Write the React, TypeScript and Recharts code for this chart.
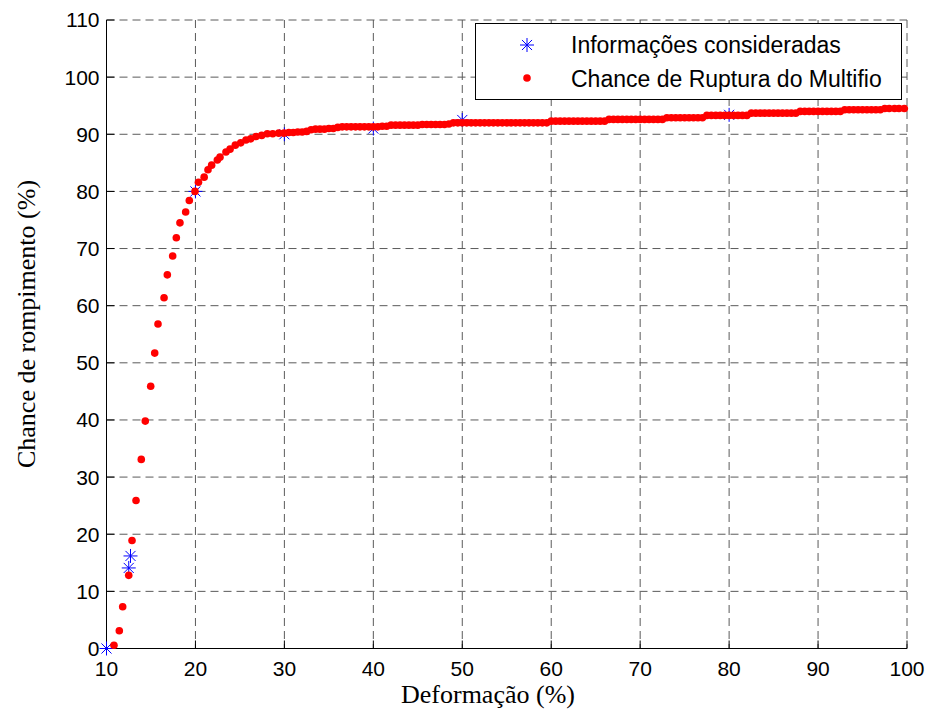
import { ScatterChart, Scatter, XAxis, YAxis, CartesianGrid } from 'recharts'

const xTicks = [10, 20, 30, 40, 50, 60, 70, 80, 90, 100]
const yTicks = [0, 10, 20, 30, 40, 50, 60, 70, 80, 90, 100, 110]

// pontos medidos (asteriscos azuis)
const informacoes: [number, number][] = [
  [10, 0], [12.5, 14.1], [12.7, 16.2], [20, 80], [30, 90], [40, 91], [50, 92.5], [80, 93.4],
]

// curva ajustada - trecho de subida
const rupturaSubida: [number, number][] = [
  [10.84, 0.56], [11.44, 3.1], [11.82, 7.3], [12.5, 12.8], [12.87, 18.9], [13.32, 25.9],
  [13.91, 33.1], [14.36, 39.8], [14.97, 45.9], [15.42, 51.7], [15.79, 56.8], [16.47, 61.4],
  [16.84, 65.4], [17.44, 68.7], [17.85, 71.9], [18.26, 74.5], [18.9, 76.4], [19.31, 78.4],
  [19.95, 80.0], [20.34, 81.6], [20.98, 82.5], [21.41, 83.8], [21.82, 84.6], [22.46, 85.5],
  [22.76, 86.0], [23.43, 86.9], [23.89, 87.4], [24.48, 88.1], [25.09, 88.5], [25.68, 89.0],
  [26.21, 89.2], [26.81, 89.6], [27.45, 89.8], [28.08, 90.1], [28.69, 90.1], [29.36, 90.2],
  [29.96, 90.2],
]

// curva ajustada - patamar
const rupturaPatamar: [number, number][] = [
  [30.5, 90.3], [31, 90.3], [31.5, 90.4], [32, 90.4], [32.5, 90.5], [33, 90.8], [33.5, 90.9],
  [34, 90.9], [34.5, 90.9], [35, 91.0], [35.5, 91.0], [36, 91.2], [36.5, 91.3], [37, 91.3],
  [37.5, 91.3], [38, 91.3], [38.5, 91.3], [39, 91.3], [39.5, 91.3], [40, 91.3], [40.5, 91.3],
  [41, 91.4], [41.5, 91.4], [42, 91.6], [42.5, 91.6], [43, 91.6], [43.5, 91.6], [44, 91.6],
  [44.5, 91.6], [45, 91.6], [45.5, 91.7], [46, 91.7], [46.5, 91.7], [47, 91.7], [47.5, 91.7],
  [48, 91.7], [48.5, 91.8], [49, 92.0], [49.5, 92.0], [50, 92.0], [50.5, 92.0], [51, 92.0],
  [51.5, 92.0], [52, 92.0], [52.5, 92.0], [53, 92.0], [53.5, 92.0], [54, 92.0], [54.5, 92.0],
  [55, 92.0], [55.5, 92.0], [56, 92.0], [56.5, 92.0], [57, 92.0], [57.5, 92.0], [58, 92.0],
  [58.5, 92.0], [59, 92.0], [59.5, 92.0], [60, 92.3], [60.5, 92.3], [61, 92.3], [61.5, 92.3],
  [62, 92.3], [62.5, 92.3], [63, 92.3], [63.5, 92.3], [64, 92.3], [64.5, 92.3], [65, 92.3],
  [65.5, 92.3], [66, 92.3], [66.5, 92.6], [67, 92.6], [67.5, 92.6], [68, 92.6], [68.5, 92.6],
  [69, 92.6], [69.5, 92.6], [70, 92.6], [70.5, 92.6], [71, 92.6], [71.5, 92.6], [72, 92.6],
  [72.5, 92.6], [73, 92.9], [73.5, 92.9], [74, 92.9], [74.5, 92.9], [75, 92.9], [75.5, 92.9],
  [76, 92.9], [76.5, 92.9], [77, 92.9], [77.5, 93.3], [78, 93.3], [78.5, 93.3], [79, 93.3],
  [79.5, 93.3], [80, 93.3], [80.5, 93.3], [81, 93.3], [81.5, 93.3], [82, 93.3], [82.5, 93.7],
  [83, 93.7], [83.5, 93.7], [84, 93.7], [84.5, 93.7], [85, 93.7], [85.5, 93.7], [86, 93.7],
  [86.5, 93.7], [87, 93.7], [87.5, 93.7], [88, 94.0], [88.5, 94.0], [89, 94.0], [89.5, 94.0],
  [90, 94.0], [90.5, 94.0], [91, 94.0], [91.5, 94.0], [92, 94.0], [92.5, 94.0], [93, 94.3],
  [93.5, 94.3], [94, 94.3], [94.5, 94.3], [95, 94.3], [95.5, 94.3], [96, 94.3], [96.5, 94.3],
  [97, 94.3], [97.5, 94.5], [98, 94.5], [98.6, 94.5], [99.1, 94.5], [99.7, 94.5],
]

const toPoints = (pts: [number, number][]) => pts.map(([x, y]) => ({ x, y }))
const infoData = toPoints(informacoes)
const rupturaData = toPoints([...rupturaSubida, ...rupturaPatamar])

const sans = '"Liberation Sans", Arial, sans-serif'
const serif = '"Liberation Serif", "Times New Roman", serif'

function Asterisk({ cx, cy, r = 7 }: { cx?: number; cy?: number; r?: number }) {
  if (cx == null || cy == null) return null
  const d = r * 0.72
  return (
    <g stroke="#0000ff" strokeWidth={1}>
      <line x1={cx - r} y1={cy} x2={cx + r} y2={cy} />
      <line x1={cx} y1={cy - r} x2={cx} y2={cy + r} />
      <line x1={cx - d} y1={cy - d} x2={cx + d} y2={cy + d} />
      <line x1={cx - d} y1={cy + d} x2={cx + d} y2={cy - d} />
    </g>
  )
}

function Dot({ cx, cy }: { cx?: number; cy?: number }) {
  if (cx == null || cy == null) return null
  return <circle cx={cx} cy={cy} r={3.8} fill="#ff0000" />
}

const tickStyle = { fill: '#000', fontSize: 21, fontFamily: sans }

export default function App() {
  return (
    <div style={{ position: 'absolute', left: 0, top: 0, width: 928, height: 713, background: '#fff' }}>
      <ScatterChart width={928} height={713} margin={{ top: 20, right: 21, bottom: 0, left: 0 }}>
        <CartesianGrid xAxisId="b" yAxisId="l" stroke="#5a5a5a" strokeDasharray="8 5" />
        <XAxis
          xAxisId="b"
          dataKey="x"
          type="number"
          orientation="bottom"
          domain={[10, 100]}
          ticks={xTicks}
          interval={0}
          height={64.5}
          tickSize={-8}
          tickMargin={21}
          tick={tickStyle}
          axisLine={{ stroke: '#000' }}
          tickLine={{ stroke: '#000' }}
          label={() => (
            <text x={488} y={703} textAnchor="middle" fontFamily={serif} fontSize={26} fill="#000">
              Deformação (%)
            </text>
          )}
        />
        <XAxis
          xAxisId="t"
          type="number"
          orientation="top"
          domain={[10, 100]}
          ticks={xTicks}
          interval={0}
          allowDataOverflow
          height={0}
          tickSize={-8}
          tick={false}
          axisLine={{ stroke: '#000' }}
          tickLine={{ stroke: '#000' }}
        />
        <YAxis
          yAxisId="l"
          dataKey="y"
          type="number"
          orientation="left"
          domain={[0, 110]}
          ticks={yTicks}
          interval={0}
          width={106.5}
          tickSize={-8}
          tickMargin={15}
          tick={tickStyle}
          axisLine={{ stroke: '#000' }}
          tickLine={{ stroke: '#000' }}
          label={() => (
            <text
              x={35}
              y={324}
              transform="rotate(-90 35 324)"
              textAnchor="middle"
              fontFamily={serif}
              fontSize={26}
              fill="#000"
            >
              Chance de rompimento (%)
            </text>
          )}
        />
        <YAxis
          yAxisId="r"
          type="number"
          orientation="right"
          domain={[0, 110]}
          ticks={yTicks}
          interval={0}
          allowDataOverflow
          width={0}
          tickSize={-8}
          tick={false}
          axisLine={{ stroke: '#000' }}
          tickLine={{ stroke: '#000' }}
        />
        <Scatter
          name="Informações consideradas"
          data={infoData}
          xAxisId="b"
          yAxisId="l"
          shape={<Asterisk />}
          isAnimationActive={false}
        />
        <Scatter
          name="Chance de Ruptura do Multifio"
          data={rupturaData}
          xAxisId="b"
          yAxisId="l"
          shape={<Dot />}
          isAnimationActive={false}
        />
      </ScatterChart>
      <div
        style={{
          position: 'absolute',
          left: 475,
          top: 23,
          width: 427,
          height: 77,
          boxSizing: 'border-box',
          border: '1px solid #000',
          background: '#fff',
        }}
      >
        <svg width={425} height={75} style={{ position: 'absolute', left: 0, top: 0 }}>
          <Asterisk cx={51} cy={21} />
          <circle cx={51} cy={54} r={3.8} fill="#ff0000" />
          <text x={95} y={29} fontFamily={sans} fontSize={23} fill="#000">
            Informações consideradas
          </text>
          <text x={95} y={62.5} fontFamily={sans} fontSize={23} fill="#000">
            Chance de Ruptura do Multifio
          </text>
        </svg>
      </div>
    </div>
  )
}
